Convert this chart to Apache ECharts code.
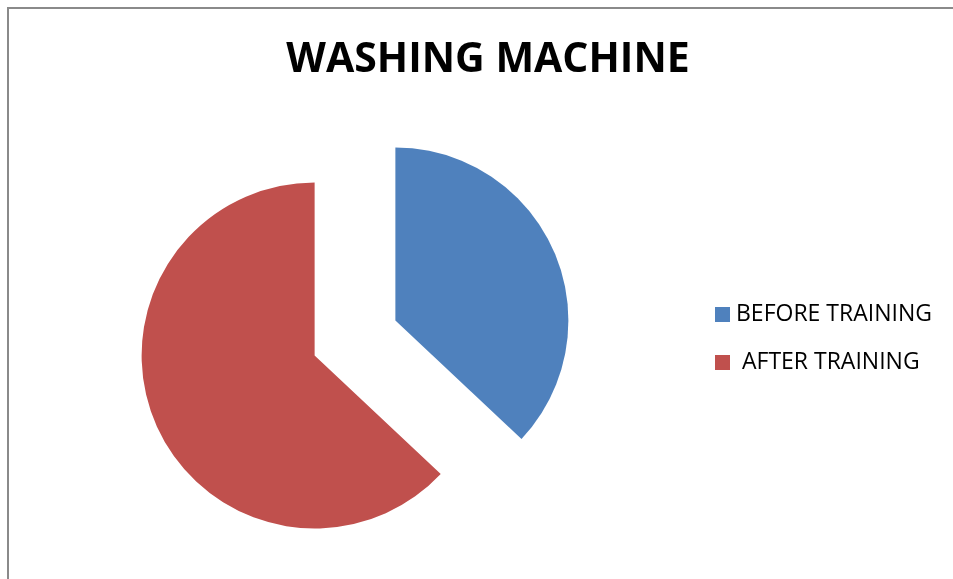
<!DOCTYPE html>
<html><head><meta charset="utf-8">
<script src="https://cdn.jsdelivr.net/npm/echarts@6/dist/echarts.min.js"></script>
<style>
html,body{margin:0;padding:0;background:#fff;}
#c{position:absolute;left:0;top:0;width:953px;height:579px;}
#frame{position:absolute;left:7px;top:7px;width:960px;height:600px;border-left:2px solid #8a8a8a;border-top:2px solid #8a8a8a;}
</style></head>
<body>
<div id="frame"></div>
<div id="c"></div>
<script>
const titleText = 'WASHING MACHINE';
const categories = ['BEFORE TRAINING', 'AFTER TRAINING'];
const legendLabels = ['BEFORE TRAINING', ' AFTER TRAINING'];
const values = [37, 63];
const colors = ['#4F81BD', '#C0504D'];

const chart = echarts.init(document.getElementById('c'), null, {renderer: 'canvas'});
chart.setOption({
  backgroundColor: 'transparent',
  animation: false,
  title: {
    text: titleText,
    left: 488, top: 40, textAlign: 'center', padding: 0,
    textStyle: {fontFamily: 'Open Sans', fontWeight: 'bold', fontSize: 41, color: '#000'}
  },
  legend: {
    orient: 'vertical',
    left: 715, top: 303, padding: 0,
    itemWidth: 15, itemHeight: 15, itemGap: 25,
    icon: 'rect',
    selectedMode: false,
    formatter: function(name){ return legendLabels[categories.indexOf(name)]; },
    textStyle: {fontFamily: 'Open Sans', fontSize: 23, lineHeight: 15, color: '#000', padding: [0,0,0,1]},
    data: categories
  },
  series: [{
    type: 'pie',
    center: [355, 338],
    radius: 173,
    startAngle: 90,
    clockwise: true,
    selectedMode: 'multiple',
    selectedOffset: 44,
    label: {show: false},
    labelLine: {show: false},
    emphasis: {disabled: true},
    data: categories.map((c, i) => ({name: c, value: values[i], selected: true, itemStyle: {color: colors[i]}}))
  }]
});
</script>
</body></html>
